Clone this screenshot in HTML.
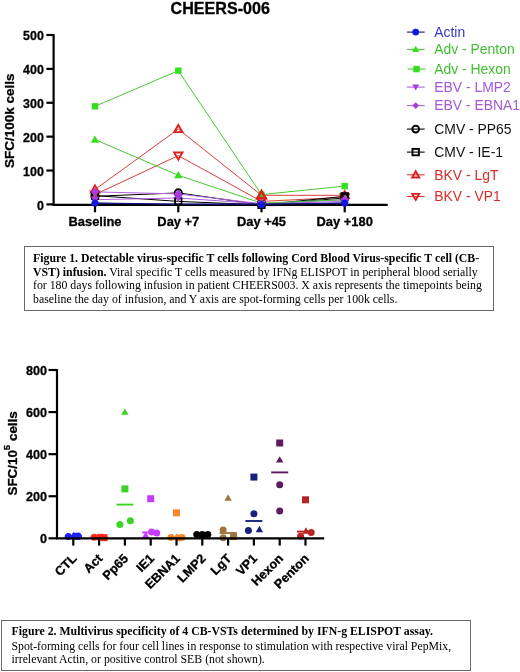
<!DOCTYPE html>
<html><head><meta charset="utf-8"><style>
html,body{margin:0;padding:0;background:#fff;}
body{width:520px;height:672px;position:relative;overflow:hidden;}
#w{position:absolute;left:0;top:0;width:520px;height:672px;filter:blur(0.3px);}
.box{position:absolute;border:1px solid #6a6a6a;box-sizing:border-box;}
.cap{position:absolute;font-family:"Liberation Serif",serif;font-size:11.8px;color:#000;white-space:nowrap;line-height:1;}
.cap b{font-weight:bold;}
</style></head><body><div id="w">
<svg width="520" height="672" viewBox="0 0 520 672" style="position:absolute;left:0;top:0">
<g font-family="Liberation Sans, sans-serif">
<text x="170.6" y="13.9" font-weight="bold" font-size="16.1" fill="#000" stroke="#000" stroke-width="0.3">CHEERS-006</text>
<polyline points="95.0,194.6 178.3,155.6 261.5,201.4 344.7,197.3" fill="none" stroke="#dc3c3c" stroke-width="1"/>
<polyline points="95.0,189.5 178.3,129.1 261.5,195.3 344.7,195.3" fill="none" stroke="#dc3c3c" stroke-width="1"/>
<polyline points="95.0,195.6 178.3,201.4 261.5,204.8 344.7,196.3" fill="none" stroke="#000" stroke-width="1"/>
<polyline points="95.0,196.3 178.3,192.9 261.5,204.8 344.7,198.0" fill="none" stroke="#000" stroke-width="1"/>
<polyline points="95.0,191.9 178.3,193.9 261.5,203.8 344.7,199.7" fill="none" stroke="#b060e0" stroke-width="1"/>
<polyline points="95.0,199.7 178.3,198.0 261.5,203.8 344.7,201.4" fill="none" stroke="#b060e0" stroke-width="1"/>
<polyline points="95.0,106.3 178.3,70.7 261.5,194.6 344.7,186.1" fill="none" stroke="#48c832" stroke-width="1"/>
<polyline points="95.0,139.6 178.3,175.3 261.5,203.1 344.7,199.7" fill="none" stroke="#48c832" stroke-width="1"/>
<polyline points="95.0,203.1 178.3,204.8 261.5,204.8 344.7,203.1" fill="none" stroke="#101090" stroke-width="1"/>
<g stroke="#000" stroke-width="2.2" fill="none">
<path d="M53.6,34 V205.5 M52.5,204.8 H387.7"/>
<path d="M46.4,35.00 H53.6"/>
<path d="M46.4,68.88 H53.6"/>
<path d="M46.4,102.76 H53.6"/>
<path d="M46.4,136.64 H53.6"/>
<path d="M46.4,170.52 H53.6"/>
<path d="M46.4,204.40 H53.6"/>
<path d="M95,204.8 V212.3"/>
<path d="M178.3,204.8 V212.3"/>
<path d="M261.5,204.8 V212.3"/>
<path d="M344.7,204.8 V212.3"/>
</g>
<polyline points="95,203.1 178.3,204.2 261.5,204.2 344.7,203.1" fill="none" stroke="#16168a" stroke-width="1.3"/>
<rect x="91.80" y="103.12" width="6.40" height="6.40" fill="#33e01c"/>
<rect x="175.10" y="67.46" width="6.40" height="6.40" fill="#33e01c"/>
<rect x="258.30" y="191.41" width="6.40" height="6.40" fill="#33e01c"/>
<rect x="341.50" y="182.92" width="6.40" height="6.40" fill="#33e01c"/>
<path d="M95.00,135.46 L99.14,142.70 L90.86,142.70Z" fill="#33e01c"/>
<path d="M178.30,171.11 L182.44,178.36 L174.16,178.36Z" fill="#33e01c"/>
<path d="M261.50,198.96 L265.64,206.21 L257.36,206.21Z" fill="#33e01c"/>
<path d="M344.70,195.57 L348.84,202.81 L340.56,202.81Z" fill="#33e01c"/>
<path d="M95.00,185.38 L99.14,192.62 L90.86,192.62Z" fill="none" stroke="#e02020" stroke-width="1.9"/>
<path d="M178.30,124.93 L182.44,132.17 L174.16,132.17Z" fill="none" stroke="#e02020" stroke-width="1.9"/>
<path d="M261.50,191.15 L265.64,198.40 L257.36,198.40Z" fill="none" stroke="#e02020" stroke-width="2.6"/>
<path d="M344.70,191.15 L348.84,198.40 L340.56,198.40Z" fill="none" stroke="#e02020" stroke-width="1.9"/>
<path d="M95.00,198.75 L99.14,191.51 L90.86,191.51Z" fill="none" stroke="#e02020" stroke-width="1.9"/>
<path d="M178.30,159.70 L182.44,152.45 L174.16,152.45Z" fill="none" stroke="#e02020" stroke-width="1.9"/>
<path d="M261.50,205.54 L265.64,198.30 L257.36,198.30Z" fill="none" stroke="#e02020" stroke-width="1.9"/>
<path d="M344.70,201.47 L348.84,194.22 L340.56,194.22Z" fill="none" stroke="#e02020" stroke-width="1.9"/>
<circle cx="95.00" cy="196.31" r="3.60" fill="none" stroke="#000" stroke-width="1.9"/>
<circle cx="178.30" cy="192.91" r="3.60" fill="none" stroke="#000" stroke-width="1.9"/>
<circle cx="261.50" cy="204.80" r="3.60" fill="none" stroke="#000" stroke-width="1.9"/>
<circle cx="344.70" cy="198.01" r="3.60" fill="none" stroke="#000" stroke-width="1.9"/>
<rect x="91.80" y="192.43" width="6.40" height="6.40" fill="none" stroke="#000" stroke-width="1.9"/>
<rect x="175.10" y="198.20" width="6.40" height="6.40" fill="none" stroke="#000" stroke-width="1.9"/>
<rect x="258.30" y="201.60" width="6.40" height="6.40" fill="none" stroke="#000" stroke-width="1.9"/>
<rect x="341.50" y="193.11" width="6.40" height="6.40" fill="none" stroke="#000" stroke-width="1.9"/>
<path d="M95.00,203.85 L99.14,196.60 L90.86,196.60Z" fill="#a83ce0"/>
<path d="M178.30,202.15 L182.44,194.90 L174.16,194.90Z" fill="#a83ce0"/>
<path d="M261.50,207.92 L265.64,200.68 L257.36,200.68Z" fill="#a83ce0"/>
<path d="M344.70,205.54 L348.84,198.30 L340.56,198.30Z" fill="#a83ce0"/>
<path d="M95.00,187.58 L99.32,191.90 L95.00,196.22 L90.68,191.90Z" fill="#a83ce0"/>
<path d="M178.30,189.61 L182.62,193.93 L178.30,198.25 L173.98,193.93Z" fill="#a83ce0"/>
<path d="M261.50,199.46 L265.82,203.78 L261.50,208.10 L257.18,203.78Z" fill="#a83ce0"/>
<path d="M344.70,195.39 L349.02,199.71 L344.70,204.03 L340.38,199.71Z" fill="#a83ce0"/>
<circle cx="95.00" cy="203.10" r="3.60" fill="#1515e0"/>
<circle cx="261.50" cy="204.80" r="3.60" fill="#1515e0"/>
<circle cx="344.70" cy="203.10" r="3.60" fill="#1515e0"/>
<g font-weight="bold" font-size="12.4" text-anchor="end" fill="#000" stroke="#000" stroke-width="0.3">
<text x="43.8" y="40.30">500</text>
<text x="43.8" y="74.18">400</text>
<text x="43.8" y="108.06">300</text>
<text x="43.8" y="141.94">200</text>
<text x="43.8" y="175.82">100</text>
<text x="43.8" y="209.70">0</text>
</g>
<g font-weight="bold" font-size="12.9" text-anchor="middle" fill="#000" stroke="#000" stroke-width="0.3">
<text x="95" y="226">Baseline</text>
<text x="178.3" y="226">Day +7</text>
<text x="261.5" y="226">Day +45</text>
<text x="344.7" y="226">Day +180</text>
</g>
<text transform="translate(14,120.7) rotate(-90)" text-anchor="middle" font-weight="bold" font-size="13.5" fill="#000" stroke="#000" stroke-width="0.3">SFC/100k cells</text>
<path d="M406.9,32.1 H424.7" stroke="#101090" stroke-width="1.1"/>
<circle cx="415.70" cy="32.10" r="3.40" fill="#1515e0"/>
<text x="434.3" y="36.9" font-size="13.9" fill="#3838c8">Actin</text>
<path d="M406.9,49.4 H424.7" stroke="#48c832" stroke-width="1.1"/>
<path d="M415.70,45.84 L419.26,52.07 L412.13,52.07Z" fill="#33e01c"/>
<text x="434.3" y="54.2" font-size="13.9" fill="#40c030">Adv - Penton</text>
<path d="M407.7,69.1 H425.5" stroke="#48c832" stroke-width="1.1"/>
<rect x="413.30" y="65.90" width="6.40" height="6.40" fill="#33e01c"/>
<text x="434.3" y="73.9" font-size="13.9" fill="#40c030">Adv - Hexon</text>
<path d="M406.9,87.1 H424.7" stroke="#b060e0" stroke-width="1.1"/>
<path d="M415.70,90.55 L419.15,84.51 L412.25,84.51Z" fill="#a83ce0"/>
<text x="434.3" y="91.9" font-size="13.9" fill="#a458d8">EBV - LMP2</text>
<path d="M406.9,105.6 H424.7" stroke="#b060e0" stroke-width="1.1"/>
<path d="M415.70,102.24 L419.06,105.60 L415.70,108.96 L412.34,105.60Z" fill="#a83ce0"/>
<text x="434.3" y="110.4" font-size="13.9" fill="#a458d8">EBV - EBNA1</text>
<path d="M406.9,129.1 H424.7" stroke="#000" stroke-width="1.1"/>
<circle cx="415.70" cy="129.10" r="3.40" fill="none" stroke="#000" stroke-width="1.9"/>
<text x="434.3" y="133.9" font-size="13.9" fill="#111">CMV - PP65</text>
<path d="M406.9,152.1 H424.7" stroke="#000" stroke-width="1.1"/>
<rect x="412.50" y="148.90" width="6.40" height="6.40" fill="none" stroke="#000" stroke-width="1.9"/>
<text x="434.3" y="156.9" font-size="13.9" fill="#111">CMV - IE-1</text>
<path d="M406.9,174.8 H424.7" stroke="#dc3c3c" stroke-width="1.1"/>
<path d="M415.70,171.23 L419.26,177.47 L412.13,177.47Z" fill="none" stroke="#e02020" stroke-width="1.9"/>
<text x="434.3" y="179.6" font-size="13.9" fill="#da2a2a">BKV - LgT</text>
<path d="M406.9,196.5 H424.7" stroke="#dc3c3c" stroke-width="1.1"/>
<path d="M415.70,199.95 L419.15,193.91 L412.25,193.91Z" fill="none" stroke="#e02020" stroke-width="1.9"/>
<text x="434.3" y="201.3" font-size="13.9" fill="#da2a2a">BKV - VP1</text>
<circle cx="68.30" cy="536.62" r="3.50" fill="#2020ff"/>
<path d="M73.30,532.10 L76.98,538.54 L69.62,538.54Z" fill="#2020ff"/>
<rect x="72.80" y="532.70" width="7.00" height="7.00" fill="#2020ff"/>
<circle cx="78.30" cy="536.20" r="3.50" fill="#2020ff"/>
<path d="M64.8,536.2 H81.8" stroke="#2020ff" stroke-width="1.9"/>
<circle cx="94.10" cy="537.25" r="3.50" fill="#ff2a1a"/>
<circle cx="99.10" cy="537.25" r="3.50" fill="#ff2a1a"/>
<path d="M102.10,532.94 L105.78,539.38 L98.42,539.38Z" fill="#ff2a1a"/>
<rect x="100.60" y="534.17" width="7.00" height="7.00" fill="#ff2a1a"/>
<path d="M90.6,537.2 H107.6" stroke="#ff2a1a" stroke-width="1.9"/>
<path d="M124.90,408.38 L128.58,414.82 L121.22,414.82Z" fill="#3ad424"/>
<rect x="121.40" y="485.36" width="7.00" height="7.00" fill="#3ad424"/>
<circle cx="119.90" cy="524.62" r="3.50" fill="#3ad424"/>
<circle cx="130.40" cy="520.84" r="3.50" fill="#3ad424"/>
<path d="M116.4,504.6 H133.4" stroke="#3ad424" stroke-width="1.9"/>
<rect x="147.20" y="495.24" width="7.00" height="7.00" fill="#c43cff"/>
<path d="M145.70,531.46 L149.38,537.90 L142.02,537.90Z" fill="#c43cff"/>
<circle cx="151.70" cy="531.99" r="3.50" fill="#c43cff"/>
<circle cx="156.70" cy="533.04" r="3.50" fill="#c43cff"/>
<path d="M142.2,532.4 H159.2" stroke="#c43cff" stroke-width="1.9"/>
<rect x="173.00" y="509.34" width="7.00" height="7.00" fill="#f58a2c"/>
<circle cx="171.00" cy="537.46" r="3.50" fill="#f58a2c"/>
<path d="M176.50,533.36 L180.18,539.80 L172.82,539.80Z" fill="#f58a2c"/>
<circle cx="182.00" cy="537.46" r="3.50" fill="#f58a2c"/>
<circle cx="179.00" cy="537.88" r="3.50" fill="#f58a2c"/>
<path d="M168.0,537.7 H185.0" stroke="#f58a2c" stroke-width="1.9"/>
<circle cx="196.80" cy="534.51" r="3.50" fill="#000000"/>
<circle cx="202.30" cy="534.51" r="3.50" fill="#000000"/>
<circle cx="207.80" cy="534.51" r="3.50" fill="#000000"/>
<path d="M202.30,531.46 L205.98,537.90 L198.62,537.90Z" fill="#000000"/>
<path d="M193.8,534.5 H210.8" stroke="#000000" stroke-width="1.9"/>
<path d="M228.10,494.22 L231.78,500.66 L224.42,500.66Z" fill="#9c763e"/>
<circle cx="223.10" cy="529.88" r="3.50" fill="#9c763e"/>
<circle cx="223.10" cy="537.67" r="3.50" fill="#9c763e"/>
<rect x="230.10" y="533.12" width="7.00" height="7.00" fill="#9c763e"/>
<path d="M219.6,533.0 H236.6" stroke="#9c763e" stroke-width="1.9"/>
<rect x="250.40" y="473.57" width="7.00" height="7.00" fill="#18207e"/>
<circle cx="253.90" cy="513.68" r="3.50" fill="#18207e"/>
<circle cx="248.40" cy="530.52" r="3.50" fill="#18207e"/>
<path d="M259.40,525.78 L263.08,532.22 L255.72,532.22Z" fill="#18207e"/>
<path d="M245.4,521.0 H262.4" stroke="#18207e" stroke-width="1.9"/>
<rect x="276.20" y="439.49" width="7.00" height="7.00" fill="#5e1a60"/>
<path d="M279.70,456.14 L283.38,462.58 L276.02,462.58Z" fill="#5e1a60"/>
<circle cx="279.70" cy="484.86" r="3.50" fill="#5e1a60"/>
<circle cx="279.70" cy="510.95" r="3.50" fill="#5e1a60"/>
<path d="M271.2,472.4 H288.2" stroke="#5e1a60" stroke-width="1.9"/>
<rect x="302.00" y="496.30" width="7.00" height="7.00" fill="#b82424"/>
<path d="M306.00,527.26 L309.68,533.70 L302.32,533.70Z" fill="#b82424"/>
<circle cx="311.20" cy="532.41" r="3.50" fill="#b82424"/>
<circle cx="300.60" cy="536.20" r="3.50" fill="#b82424"/>
<path d="M297.0,531.6 H314.0" stroke="#b82424" stroke-width="1.9"/>
<g stroke="#000" stroke-width="2.2" fill="none">
<path d="M57,369 V539.4 M56,538.3 H324.2"/>
<path d="M48.5,370.00 H57"/>
<path d="M48.5,412.08 H57"/>
<path d="M48.5,454.16 H57"/>
<path d="M48.5,496.24 H57"/>
<path d="M48.5,538.32 H57"/>
<path d="M73.3,538.3 V545.6"/>
<path d="M99.1,538.3 V545.6"/>
<path d="M124.9,538.3 V545.6"/>
<path d="M150.7,538.3 V545.6"/>
<path d="M176.5,538.3 V545.6"/>
<path d="M202.3,538.3 V545.6"/>
<path d="M228.1,538.3 V545.6"/>
<path d="M253.9,538.3 V545.6"/>
<path d="M279.7,538.3 V545.6"/>
<path d="M305.5,538.3 V545.6"/>
</g>
<g font-weight="bold" font-size="12.6" text-anchor="end" fill="#000" stroke="#000" stroke-width="0.3">
<text x="47" y="374.80">800</text>
<text x="47" y="416.88">600</text>
<text x="47" y="458.96">400</text>
<text x="47" y="501.04">200</text>
<text x="47" y="543.12">0</text>
</g>
<g font-weight="bold" font-size="12.7" text-anchor="end" fill="#000" stroke="#000" stroke-width="0.3">
<text transform="translate(77.5,559.2) rotate(-45)">CTL</text>
<text transform="translate(103.3,559.2) rotate(-45)">Act</text>
<text transform="translate(129.1,559.2) rotate(-45)">Pp65</text>
<text transform="translate(154.9,559.2) rotate(-45)">IE1</text>
<text transform="translate(180.7,559.2) rotate(-45)">EBNA1</text>
<text transform="translate(206.5,559.2) rotate(-45)">LMP2</text>
<text transform="translate(232.3,559.2) rotate(-45)">LgT</text>
<text transform="translate(258.1,559.2) rotate(-45)">VP1</text>
<text transform="translate(283.9,559.2) rotate(-45)">Hexon</text>
<text transform="translate(309.7,559.2) rotate(-45)">Penton</text>
</g>
<text transform="translate(17.4,453.4) rotate(-90)" text-anchor="middle" font-weight="bold" font-size="13.4" fill="#000" stroke="#000" stroke-width="0.3">SFC/10<tspan font-size="9.6" dy="-7.5">5</tspan><tspan dy="7.5"> cells</tspan></text>
</g></svg>
<div class="box" style="left:24.2px;top:246px;width:469.5px;height:64.5px"></div>
<div class="cap" style="left:33px;top:252.6px"><b>Figure 1. Detectable virus-specific T cells following Cord Blood Virus-specific T cell (CB-</b></div>
<div class="cap" style="left:33px;top:266.6px"><b>VST) infusion.</b> Viral specific T cells measured by IFNg ELISPOT in peripheral blood serially</div>
<div class="cap" style="left:33px;top:280.2px">for 180 days following infusion in patient CHEERS003. X axis represents the timepoints being</div>
<div class="cap" style="left:33px;top:293.6px">baseline the day of infusion, and Y axis are spot-forming cells per 100k cells.</div>
<div class="box" style="left:1.4px;top:619.6px;width:469.6px;height:51.4px"></div>
<div class="cap" style="left:11.5px;top:626.2px"><b>Figure 2. Multivirus specificity of 4 CB-VSTs determined by IFN-g ELISPOT assay.</b></div>
<div class="cap" style="left:11.5px;top:640.7px">Spot-forming cells for four cell lines in response to stimulation with respective viral PepMix,</div>
<div class="cap" style="left:11.5px;top:653.7px">irrelevant Actin, or positive control SEB (not shown).</div>
</div></body></html>
